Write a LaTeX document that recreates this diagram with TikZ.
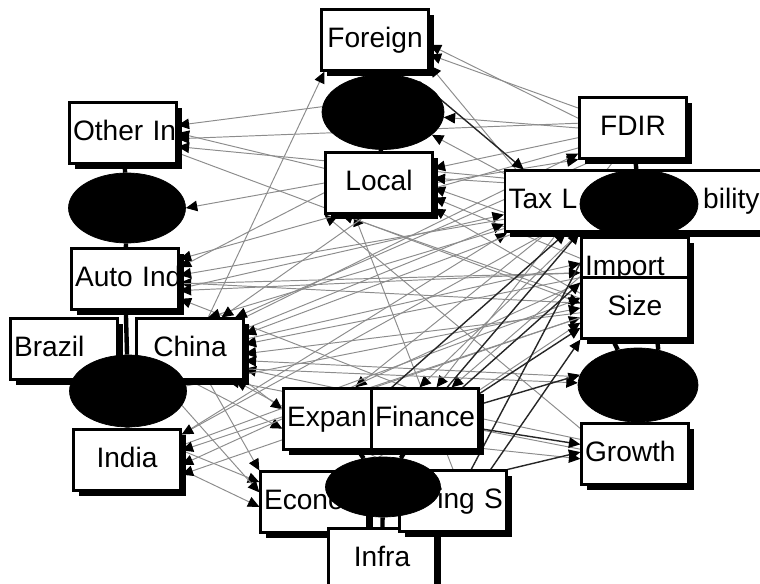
\documentclass[tikz,border=0pt]{standalone}
\usepackage{fontspec}
\setmainfont{Liberation Sans}
\usetikzlibrary{arrows.meta}
\usetikzlibrary{shapes.geometric}
\usetikzlibrary{shadows}
\usetikzlibrary{backgrounds}

\begin{document}
\begin{tikzpicture}[x=0.02cm,y=-0.02cm,->,>={Triangle[length=6.5pt,width=6pt,color=black]},
	box/.style={rectangle,draw,fill=white,line width=1.3pt,minimum height=1.22cm,text width=2cm,text height=11.5pt,text depth=3.5pt,inner sep=2pt,align=center,font=\fontsize{16}{18}\selectfont,drop shadow={shadow xshift=3pt,shadow yshift=-3pt,fill=black,opacity=1}},
	latent/.style={ellipse,draw=black,fill=black,inner sep=0pt},
	link/.style={draw=black!45,line width=0.55pt},
	dark link/.style={draw=black!85,line width=0.8pt},
	tie/.style={-,draw=black,line width=2.5pt}]

				\useasboundingbox (0,0) rectangle (760,584);

				\node[box] (foreign) at (375,40) {Foreign};
				\node[box] (local) at (379,183) {Local};
				\node[box] (fdir) at (633,128) {FDIR};
				\node[box,text width=5.02cm,align=left] (tax) at (634,201) {Tax L\hskip 0pt plus 1filll bility};
				\node[box,align=left] (otherin) at (123,133) {\mbox{Other In}};
				\node[box,align=left] (autoind) at (125,279) {\mbox{Auto Ind}};
				\node[box,align=left] (brazil) at (64,349) {Brazil};
				\node[box] (china) at (190,349) {China};
				\node[box] (india) at (127,460) {India};
				\node[box,align=left] (expan) at (337,419) {Expan};
				\node[box] (finance) at (425,419) {Finance};
				\node[box,align=left] (econo) at (314,502) {Econo};
				\node[box] (infra) at (382,559) {Infra};
				\node[box,align=right] (ings) at (453,501) {ing S};
				\node[box,align=left] (import) at (635,268) {Import};
				\node[box] (size) at (635,308) {Size};
				\node[box,align=left] (growth) at (635,454) {Growth};

				\node[latent,minimum width=2.44cm,minimum height=1.5cm] (lat1) at (383,112) {};
				\node[latent,minimum width=2.34cm,minimum height=1.4cm] (lat2) at (127,208) {};
				\node[latent,minimum width=2.34cm,minimum height=1.44cm] (lat3) at (128,391) {};
				\node[latent,minimum width=2.3cm,minimum height=1.2cm] (lat4) at (383,487) {};
				\node[latent,minimum width=2.36cm,minimum height=1.36cm] (lat5) at (639,204) {};
				\node[latent,minimum width=2.4cm,minimum height=1.48cm] (lat6) at (638,385) {};

				\begin{scope}[on background layer]
				\path[tie]
				(lat1) edge (foreign)
				(lat1) edge (local)
				(lat2) edge (otherin)
				(lat2) edge (autoind)
				(lat3) edge (autoind)
				(lat3) edge (india)
				(lat4) edge (expan)
				(lat4) edge (finance)
				(lat4) edge (infra)
				(lat5) edge (fdir)
				(lat5) edge (import)
				(lat6.120) edge (size.-125)
				(lat6.60) edge (size.-55)
				(lat6.-97) edge (growth.97)
				(lat6.-83) edge (growth.83);

				\path[link]
				(china.60) edge (foreign.-148)
				(fdir.170) edge (foreign.-5)
				(fdir.160) edge (foreign.-15)
				(tax.165) edge (foreign.-25)
				(fdir.west) edge (lat1.-5)
				(tax.168) edge (lat1.-25)
				(local.0) edge (fdir.-150)
				(china.30) edge (fdir.-155)
				(fdir.-170) edge (local.15)
				(tax.172) edge (local.5)
				(tax.-175) edge (local.-5)
				(import.170) edge (local.-15)
				(size.165) edge (local.-25)
				(size.170) edge (local.-140)
				(ings.90) edge (local.-128)
				(growth.155) edge (local.-150)
				(china.20) edge (tax.-170)
				(autoind.-10) edge (tax.-174)
				(india.25) edge (tax.-166)
				(lat1.175) edge (otherin.8)
				(local.165) edge (otherin.0)
				(fdir.175) edge (otherin.-6)
				(tax.170) edge (otherin.-14)
				(local.180) edge (lat2.0)
				(fdir.-160) edge (autoind.20)
				(local.-170) edge (autoind.12)
				(tax.-172) edge (autoind.4)
				(size.175) edge (autoind.-4)
				(import.-175) edge (autoind.-12)
				(finance.120) edge (autoind.-20)
				(tax.-168) edge (china.60)
				(local.-110) edge (china.45)
				(fdir.-140) edge (china.35)
				(tax.-165) edge (china.15)
				(import.-170) edge (china.5)
				(size.-175) edge (china.-5)
				(lat6.172) edge (china.-12)
				(growth.165) edge (china.-20)
				(ings.150) edge (china.-35)
				(growth.175) edge (china.-40)
				(china.-30) edge (expan.170)
				(lat3.15) edge (expan.-170)
				(india.10) edge (econo.160)
				(lat3.-15) edge (econo.170)
				(india.-10) edge (econo.-175)
				(china.-60) edge (econo.150)
				(tax.-160) edge (expan.60)
				(tax.-150) edge (finance.100)
				(fdir.-120) edge (finance.70)
				(size.150) edge (finance.50)
				(china.10) edge (import.175)
				(autoind.-5) edge (import.-175)
				(otherin.-20) edge (size.175)
				(india.15) edge (size.170)
				(expan.40) edge (size.-170)
				(econo.35) edge (size.-165)
				(lat3.5) edge (size.180)
				(china.-20) edge (lat6.178)
				(expan.-20) edge (growth.-175)
				(tax.-160) edge (india.25)
				(size.-170) edge (india.10)
				(import.-165) edge (india.-5)
				(finance.170) edge (india.-15);

				\path[dark link]
				(lat1.40) edge (tax.164)
				(finance.25) edge (size.-160)
				(finance.40) edge (import.-165)
				(ings.60) edge (tax.-140)
				(ings.40) edge (size.-150)
				(finance.-10) edge (growth.170)
				(ings.30) edge (growth.178)
				(finance.15) edge (lat6.170)
				(expan.30) edge (tax.-155)
				(finance.55) edge (tax.-150);
				\end{scope}

\end{tikzpicture}
\end{document}
